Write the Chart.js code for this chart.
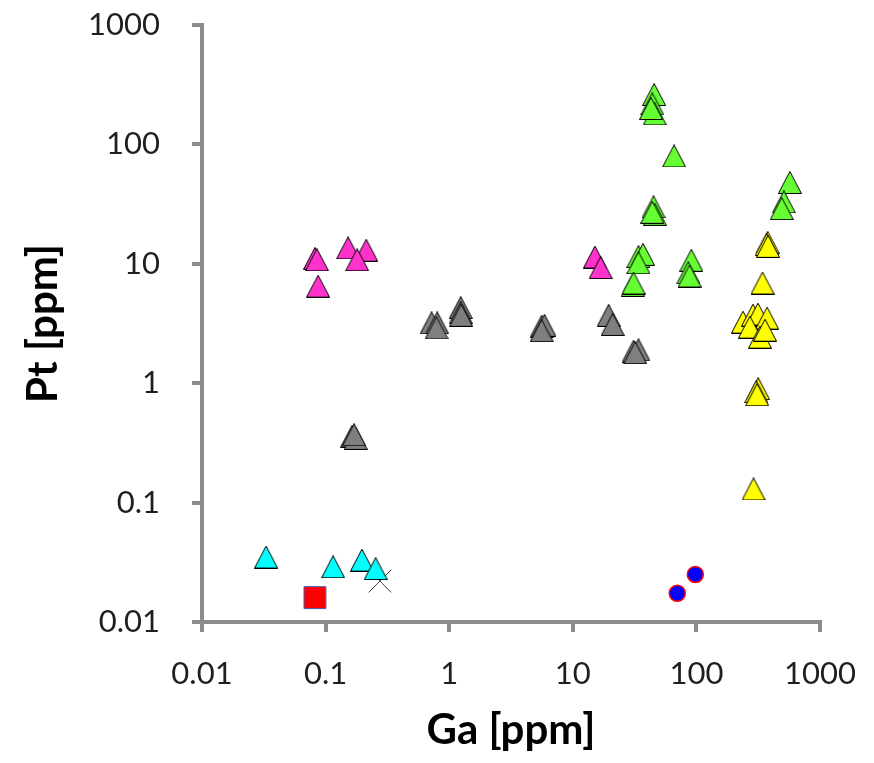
<!DOCTYPE html>
<html>
<head>
<meta charset="utf-8">
<script src="https://cdn.jsdelivr.net/npm/chart.js@4/dist/chart.umd.min.js"></script>
<style>
  html, body { margin: 0; padding: 0; background: #fff; }
  #wrap { width: 874px; height: 763px; }
</style>
</head>
<body>
<div id="wrap"><canvas id="scatter"></canvas></div>
<script>
// tick labels
const xTicks = [0.01, 0.1, 1, 10, 100, 1000];
const xTickLabels = ['0.01', '0.1', '1', '10', '100', '1000'];
const yTicks = [0.01, 0.1, 1, 10, 100, 1000];
const yTickLabels = ['0.01', '0.1', '1', '10', '100', '1000'];

// green triangles
const gaGreen = [45.5, 44, 46, 43, 66, 570, 510, 490, 45, 46, 44, 34, 37, 34, 30.5, 31, 91, 86, 88];
const ptGreen = [262, 218, 180, 200, 80, 48, 33, 29, 30, 26, 27, 11.5, 12, 10.2, 6.6, 6.9, 10.7, 8.4, 7.9];

// magenta triangles
const gaMagenta = [0.082, 0.085, 0.087, 0.152, 0.213, 0.18, 15.1, 16.8];
const ptMagenta = [11.1, 10.8, 6.5, 13.6, 13, 10.8, 11.4, 9.3];

// grey triangles
const gaGrey = [0.164, 0.175, 0.17, 0.72, 0.8, 0.79, 1.24, 1.24, 1.25, 5.6, 5.9, 5.6, 19.5, 21, 31, 34, 32];
const ptGrey = [0.36, 0.345, 0.37, 3.2, 3.2, 2.9, 4.3, 3.9, 3.7, 3.0, 3.05, 2.75, 3.7, 3.1, 1.85, 1.9, 1.8];

// yellow triangles
const gaYellow = [377, 370, 380, 343, 238, 287, 315, 373, 271, 327, 359, 316, 305, 310, 290];
const ptYellow = [15.1, 14.5, 14, 6.9, 3.25, 3.72, 3.79, 3.51, 2.95, 2.43, 2.78, 0.9, 0.85, 0.8, 0.13];

// cyan triangles
const gaCyan = [0.033, 0.115, 0.197, 0.254];
const ptCyan = [0.035, 0.029, 0.033, 0.028];

// other markers
const gaCross = [0.275];
const ptCross = [0.022];
const gaSquare = [0.082];
const ptSquare = [0.016];
const gaCircle = [98, 70];
const ptCircle = [0.025, 0.0174];

const pairs = (xs, ys) => xs.map((x, i) => ({ x: x, y: ys[i] }));

// excel-like triangle marker, centred on its bounding box
function triangle(fill) {
    const c = document.createElement('canvas');
    c.width = 24;
    c.height = 23;
    const g = c.getContext('2d');
    g.beginPath();
    g.moveTo(12, 0.5);
    g.lineTo(23.5, 22.5);
    g.lineTo(0.5, 22.5);
    g.closePath();
    g.fillStyle = fill;
    g.fill();
    g.strokeStyle = '#000';
    g.lineWidth = 1;
    g.stroke();
    return c;
}

const triSet = (xs, ys, fill) => ({
    data: pairs(xs, ys),
    pointStyle: triangle(fill),
    pointRadius: 12,
    pointHoverRadius: 12
});

const axisGrey = '#8c8c8c';

new Chart(document.getElementById('scatter'), {
    type: 'scatter',
    data: {
        datasets: [
            triSet(gaMagenta, ptMagenta, '#ff33cc'),
            triSet(gaGrey, ptGrey, '#7f7f7f'),
            triSet(gaGreen, ptGreen, '#66ff33'),
            triSet(gaYellow, ptYellow, '#ffff00'),
            triSet(gaCyan, ptCyan, '#00ffff'),
            {
                data: pairs(gaCross, ptCross),
                pointStyle: 'crossRot',
                pointRadius: 16,
                borderColor: '#404040',
                borderWidth: 1
            },
            {
                data: pairs(gaSquare, ptSquare),
                pointStyle: 'rect',
                pointRadius: 15.5,
                backgroundColor: '#ff0000',
                borderColor: '#4a60b0',
                borderWidth: 1
            },
            {
                data: pairs(gaCircle, ptCircle),
                pointStyle: 'circle',
                pointRadius: 8,
                backgroundColor: '#0000ff',
                borderColor: '#ff0000',
                borderWidth: 1.5
            }
        ]
    },
    options: {
        responsive: true,
        maintainAspectRatio: false,
        animation: false,
        layout: { padding: { top: 25, right: 54, left: 0, bottom: 0 } },
        plugins: {
            legend: { display: false },
            tooltip: { enabled: false }
        },
        scales: {
            x: {
                type: 'logarithmic',
                position: 'bottom',
                min: 0.01,
                max: 1000,
                afterBuildTicks: (s) => { s.ticks = xTicks.map(v => ({ value: v })); },
                afterFit: (s) => {
                    s.height = 141;
                    s.paddingLeft = 0;
                    s.paddingRight = 0;
                },
                ticks: {
                    autoSkip: false,
                    maxRotation: 0,
                    padding: 23,
                    color: '#1f1f1f',
                    font: { family: 'Lato', size: 31 },
                    callback: (v, i) => xTickLabels[i]
                },
                grid: {
                    drawOnChartArea: false,
                    drawTicks: true,
                    tickLength: 10,
                    color: axisGrey,
                    lineWidth: 4
                },
                border: { display: true, color: axisGrey, width: 4 },
                title: {
                    display: true,
                    text: 'Ga [ppm]',
                    color: '#000',
                    font: { family: 'Lato', size: 42, weight: 'bold' },
                    padding: { top: 0, bottom: 7 }
                }
            },
            y: {
                type: 'logarithmic',
                position: 'left',
                min: 0.01,
                max: 1000,
                afterBuildTicks: (s) => { s.ticks = yTicks.map(v => ({ value: v })); },
                afterFit: (s) => {
                    s.width = 202;
                    s.paddingTop = 0;
                    s.paddingBottom = 0;
                },
                ticks: {
                    autoSkip: false,
                    padding: 32,
                    color: '#1f1f1f',
                    font: { family: 'Lato', size: 31 },
                    callback: (v, i) => yTickLabels[i]
                },
                grid: {
                    drawOnChartArea: false,
                    drawTicks: true,
                    tickLength: 10,
                    color: axisGrey,
                    lineWidth: 4
                },
                border: { display: true, color: axisGrey, width: 4 },
                title: {
                    display: true,
                    text: 'Pt [ppm]',
                    color: '#000',
                    font: { family: 'Lato', size: 42, weight: 'bold' },
                    padding: { top: 18, bottom: 0 }
                }
            }
        }
    }
});
</script>
</body>
</html>
